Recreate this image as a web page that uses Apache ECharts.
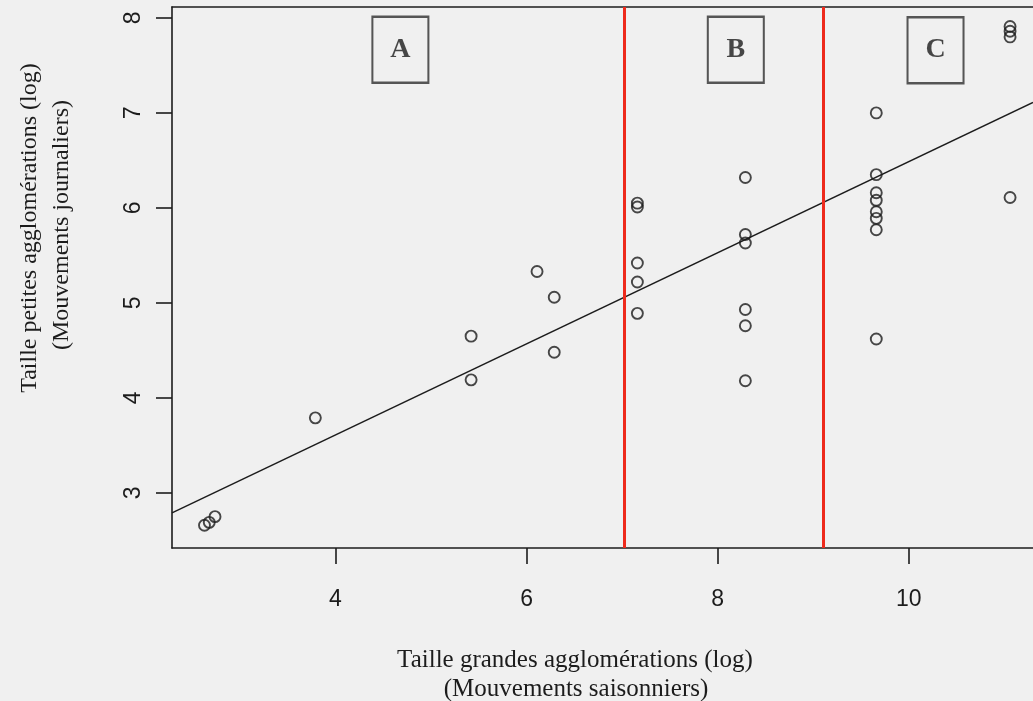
<!DOCTYPE html>
<html>
<head>
<meta charset="utf-8">
<script src="https://cdn.jsdelivr.net/npm/echarts@6/dist/echarts.min.js"></script>
<style>
html,body{margin:0;padding:0;background:#f0f0f0;}
#chart{width:1033px;height:701px;}
</style>
</head>
<body>
<div id="chart"></div>
<script>
// Observations (x: log size large agglomerations, y: log size small agglomerations)
const pointsX = [2.63, 2.68, 2.74, 3.79, 5.42, 5.42, 6.11, 6.29, 6.29,
  7.16, 7.16, 7.16, 7.16, 7.16,
  8.29, 8.29, 8.29, 8.29, 8.29, 8.29,
  9.66, 9.66, 9.66, 9.66, 9.66, 9.66, 9.66, 9.66,
  11.06, 11.06, 11.06, 11.06];
const pointsY = [2.66, 2.69, 2.75, 3.79, 4.65, 4.19, 5.33, 5.06, 4.48,
  6.05, 6.01, 5.42, 5.22, 4.89,
  6.32, 5.72, 5.63, 4.93, 4.76, 4.18,
  7.00, 6.35, 6.16, 6.08, 5.96, 5.89, 5.77, 4.62,
  7.91, 7.86, 7.80, 6.11];
// Fitted regression line (endpoints)
const regLineX = [2.29, 11.30];
const regLineY = [2.79, 7.11];
// Red separators between zones
const separators = [7.02, 9.10];
// Zone labels
const zoneNames = ['A', 'B', 'C'];
const zoneX = [4.68, 8.19, 10.28];
const zoneY = [7.665, 7.665, 7.66];
// Axis ticks
const xTicks = [4, 6, 8, 10];
const yTicks = [3, 4, 5, 6, 7, 8];

const chart = echarts.init(document.getElementById('chart'));
const ink = '#1c1c1c';
const serif = '"Liberation Serif", "DejaVu Serif", serif';
const sans = '"Liberation Sans", Arial, sans-serif';

chart.setOption({
  backgroundColor: '#f0f0f0',
  animation: false,
  grid: {left: 172, top: 7, right: 0, height: 541},
  xAxis: [{
    type: 'value', min: 2.29, max: 11.30,
    splitLine: {show: false},
    axisLine: {show: true, lineStyle: {color: ink, width: 1.6}},
    axisTick: {show: true, inside: false, length: 16, lineStyle: {color: ink, width: 1.6}, customValues: xTicks},
    axisLabel: {customValues: xTicks, color: ink, fontFamily: sans, fontSize: 23, margin: 40}
  }, {
    type: 'value', position: 'top', min: 2.29, max: 11.30,
    splitLine: {show: false},
    axisLine: {show: true, lineStyle: {color: ink, width: 1.6}},
    axisTick: {show: false}, axisLabel: {show: false}
  }],
  yAxis: {
    type: 'value', min: 2.42, max: 8.115,
    splitLine: {show: false},
    axisLine: {show: true, lineStyle: {color: ink, width: 1.6}},
    axisTick: {show: true, inside: false, length: 16, lineStyle: {color: ink, width: 1.6}, customValues: yTicks},
    axisLabel: {customValues: yTicks, color: ink, fontFamily: sans, fontSize: 23, margin: 27, rotate: 90}
  },
  graphic: [
    {type: 'text', x: 30, y: 228, rotation: Math.PI / 2,
      style: {text: 'Taille petites agglomérations (log)', font: '24px ' + serif, fill: ink, textAlign: 'center', textVerticalAlign: 'middle'}},
    {type: 'text', x: 62, y: 225, rotation: Math.PI / 2,
      style: {text: '(Mouvements journaliers)', font: '24px ' + serif, fill: ink, textAlign: 'center', textVerticalAlign: 'middle'}},
    {type: 'text', x: 575, y: 660,
      style: {text: 'Taille grandes agglomérations (log)', font: '25px ' + serif, fill: ink, textAlign: 'center', textVerticalAlign: 'middle'}},
    {type: 'text', x: 576, y: 689,
      style: {text: '(Mouvements saisonniers)', font: '25px ' + serif, fill: ink, textAlign: 'center', textVerticalAlign: 'middle'}}
  ],
  series: [
    {
      type: 'line', data: regLineX.map((x, i) => [x, regLineY[i]]),
      symbol: 'none', lineStyle: {color: ink, width: 1.5}, clip: true, z: 2,
      markLine: {
        silent: true, symbol: 'none', label: {show: false},
        lineStyle: {color: '#ee2a1c', width: 3, type: 'solid'},
        data: separators.map(v => ({xAxis: v}))
      }
    },
    {
      type: 'scatter', data: pointsX.map((x, i) => [x, pointsY[i]]),
      symbol: 'circle', symbolSize: 11,
      itemStyle: {color: 'rgba(0,0,0,0)', borderColor: ink, borderWidth: 1.9}, z: 3
    },
    {
      type: 'scatter', data: zoneX.map((x, i) => ({value: [x, zoneY[i]], name: zoneNames[i]})),
      symbol: 'rect', symbolSize: [56, 66],
      itemStyle: {color: 'rgba(0,0,0,0)', borderColor: '#2e2e2e', borderWidth: 2.2},
      label: {show: true, position: 'inside', formatter: p => p.name, color: ink, fontFamily: serif, fontSize: 28, fontWeight: 'bold'},
      z: 4
    }
  ]
});
</script>
</body>
</html>
